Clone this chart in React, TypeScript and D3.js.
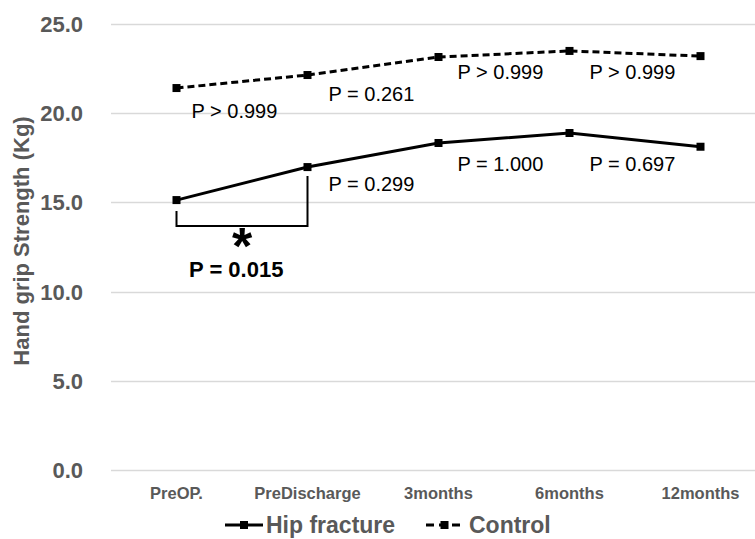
import { useEffect, useRef } from 'react';
import * as d3 from 'd3';

const timepoints = ['PreOP.', 'PreDischarge', '3months', '6months', '12months'];
const hipFracture = [15.13, 16.98, 18.33, 18.89, 18.12];
const control = [21.41, 22.14, 23.15, 23.49, 23.2];
const yTicks = [0, 5, 10, 15, 20, 25];
const controlPValues = ['P > 0.999', 'P = 0.261', 'P > 0.999', 'P > 0.999'];
const hipPValues = ['', 'P = 0.299', 'P = 1.000', 'P = 0.697'];
const significantP = 'P = 0.015';

const W = 755;
const H = 539;
const GRAY = '#595959';
const FONT = '"Liberation Sans", Arial, sans-serif';

// label placement (pixel offsets from the segment start point)
const labelDx = [15, 21, 19, 20];
const controlLabelBaseline = [118, 101, 79, 79];
const hipLabelBaseline = [0, 191, 171, 171];

export default function App() {
  const ref = useRef<SVGSVGElement>(null);

  useEffect(() => {
    const el = ref.current;
    if (!el) return;
    const svg = d3.select(el);
    svg.selectAll('*').remove();

    const x = d3.scaleBand<string>().domain(timepoints).range([111, 766]).padding(0);
    const cx = (t: string) => (x(t) ?? 0) + x.bandwidth() / 2;
    const y = d3.scaleLinear().domain([0, 25]).range([470, 24]);

    // gridlines
    svg
      .append('g')
      .selectAll('line')
      .data(yTicks)
      .join('line')
      .attr('x1', 111)
      .attr('x2', W)
      .attr('y1', (d) => Math.round(y(d)) + 0.5)
      .attr('y2', (d) => Math.round(y(d)) + 0.5)
      .attr('stroke', '#d9d9d9')
      .attr('stroke-width', 1.5);

    // y tick labels
    svg
      .append('g')
      .selectAll('text')
      .data(yTicks)
      .join('text')
      .attr('x', 83)
      .attr('y', (d) => y(d))
      .attr('dy', '0.36em')
      .attr('text-anchor', 'end')
      .attr('font-family', FONT)
      .attr('font-weight', 'bold')
      .attr('font-size', 22)
      .attr('fill', GRAY)
      .text((d) => d.toFixed(1));

    // y axis title
    svg
      .append('text')
      .attr('transform', `translate(29,241) rotate(-90)`)
      .attr('text-anchor', 'middle')
      .attr('font-family', FONT)
      .attr('font-weight', 'bold')
      .attr('font-size', 22)
      .attr('fill', GRAY)
      .text('Hand grip Strength (Kg)');

    // x tick labels
    svg
      .append('g')
      .selectAll('text')
      .data(timepoints)
      .join('text')
      .attr('x', (d) => cx(d))
      .attr('y', 499)
      .attr('text-anchor', 'middle')
      .attr('font-family', FONT)
      .attr('font-weight', 'bold')
      .attr('font-size', 16.5)
      .attr('fill', GRAY)
      .text((d) => d);

    const line = d3
      .line<number>()
      .x((_d, i) => cx(timepoints[i]))
      .y((d) => y(d));

    const drawSeries = (values: number[], dashed: boolean) => {
      svg
        .append('path')
        .datum(values)
        .attr('d', line)
        .attr('fill', 'none')
        .attr('stroke', '#000')
        .attr('stroke-width', 3)
        .attr('stroke-dasharray', dashed ? '7,4' : null);
      svg
        .append('g')
        .selectAll('rect')
        .data(values)
        .join('rect')
        .attr('x', (_d, i) => cx(timepoints[i]) - 4)
        .attr('y', (d) => y(d) - 4)
        .attr('width', 8)
        .attr('height', 8)
        .attr('fill', '#000');
    };
    drawSeries(control, true);
    drawSeries(hipFracture, false);

    // p-value labels
    const labelStyle = (sel: d3.Selection<SVGTextElement, unknown, null, undefined>) =>
      sel.attr('font-family', FONT).attr('font-size', 20).attr('fill', '#000');

    controlPValues.forEach((label, i) => {
      svg
        .append('text')
        .attr('x', cx(timepoints[i]) + labelDx[i])
        .attr('y', controlLabelBaseline[i])
        .call(labelStyle)
        .text(label);
    });
    hipPValues.forEach((label, i) => {
      if (!label) return;
      svg
        .append('text')
        .attr('x', cx(timepoints[i]) + labelDx[i])
        .attr('y', hipLabelBaseline[i])
        .call(labelStyle)
        .text(label);
    });

    // significance bracket
    const x0 = cx(timepoints[0]);
    const x1 = cx(timepoints[1]);
    const bracketY = 226;
    svg
      .append('path')
      .attr('d', `M${x0},${y(hipFracture[0]) + 11}V${bracketY}H${x1}V${y(hipFracture[1]) + 9}`)
      .attr('fill', 'none')
      .attr('stroke', '#000')
      .attr('stroke-width', 2);

    svg
      .append('text')
      .attr('x', (x0 + x1) / 2)
      .attr('y', 264)
      .attr('text-anchor', 'middle')
      .attr('font-family', FONT)
      .attr('font-weight', 'bold')
      .attr('font-size', 52)
      .attr('fill', '#000')
      .text('*');

    svg
      .append('text')
      .attr('x', 189)
      .attr('y', 277)
      .attr('font-family', FONT)
      .attr('font-weight', 'bold')
      .attr('font-size', 22)
      .attr('fill', '#000')
      .text(significantP);

    // legend
    const legend = svg.append('g');
    const items = [
      { name: 'Hip fracture', dashed: false, x: 225, w: 38, gap: 3 },
      { name: 'Control', dashed: true, x: 426, w: 37, gap: 6 },
    ];
    items.forEach((it) => {
      legend
        .append('line')
        .attr('x1', it.x)
        .attr('x2', it.x + it.w)
        .attr('y1', 525)
        .attr('y2', 525)
        .attr('stroke', '#000')
        .attr('stroke-width', 3)
        .attr('stroke-dasharray', it.dashed ? '8,5' : null);
      legend
        .append('rect')
        .attr('x', it.x + it.w / 2 - 4)
        .attr('y', 521)
        .attr('width', 8)
        .attr('height', 8)
        .attr('fill', '#000');
      legend
        .append('text')
        .attr('x', it.x + it.w + it.gap)
        .attr('y', 533)
        .attr('font-family', FONT)
        .attr('font-weight', 'bold')
        .attr('font-size', 23)
        .attr('fill', GRAY)
        .text(it.name);
    });
  }, []);

  return (
    <svg
      ref={ref}
      width={W}
      height={H}
      style={{ position: 'absolute', left: 0, top: 0, background: '#fff' }}
    />
  );
}
